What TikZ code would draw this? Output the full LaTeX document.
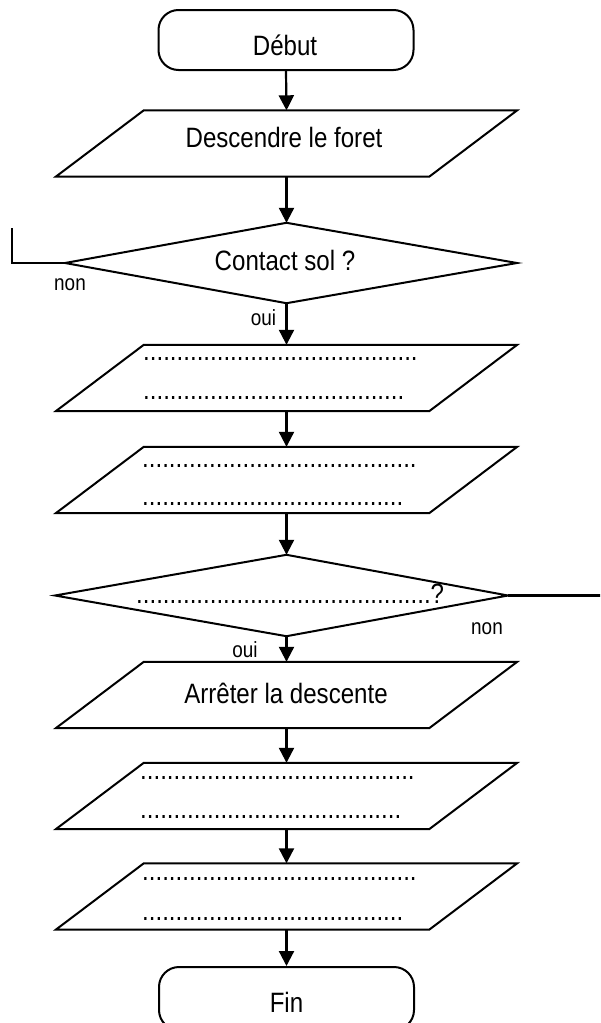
\documentclass[tikz,border=0pt]{standalone}
\usepackage{fontspec}
\setmainfont{Liberation Sans}[FakeStretch=0.86]
\usetikzlibrary{arrows.meta,calc}
\newcommand\parashape[1]{\draw[shp] ($(#1.north west)+(88,0)$) -- (#1.north east) -- ($(#1.south east)+(-88,0)$) -- (#1.south west) -- cycle;}
\begin{document}
\begin{tikzpicture}[x=1pt,y=-1pt,
  shp/.style={line width=2pt},
  flow/.style={line width=2.2pt,-{Triangle[width=15pt,length=15pt]}},
  plainline/.style={line width=2.2pt},
  txt/.style={font=\fontsize{28}{34}\selectfont, inner sep=0pt, anchor=base},
  lbl/.style={font=\fontsize{22}{26}\selectfont, inner sep=0pt, anchor=base},
  dotline/.style={font=\fontsize{28}{34}\selectfont, inner sep=0pt, anchor=base west},
  term/.style={draw, line width=2pt, rounded corners=20pt, minimum width=255pt, minimum height=60pt, inner sep=0pt},
  para/.style={minimum width=461pt, minimum height=66pt, inner sep=0pt},
  dia/.style={minimum width=1pt, inner sep=0pt},
]
\useasboundingbox (0,0) rectangle (600,1023);
\clip (0,0) rectangle (600,1023);

% terminals
\node[term] (debut) at (286,40) {};
\node[txt] (debutt) at (285,55) {Début};
\node[term, minimum height=63pt] (fin) at (286.5,998.5) {};
\node[txt] (fint) at (286.5,1012) {Fin};

% parallelograms
\node[para] (p1) at (286.5,143.5) {};
\node[para] (p2) at (286.5,378) {};
\node[para] (p3) at (286.5,480) {};
\node[para] (p4) at (286.5,695) {};
\node[para] (p5) at (286.5,796) {};
\node[para] (p6) at (286.5,896.5) {};
\parashape{p1}
\parashape{p2}
\parashape{p3}
\parashape{p4}
\parashape{p5}
\parashape{p6}

\node[txt] (p1t) at (284,147) {Descendre le foret};
\node[txt] (p4t) at (286,703) {Arrêter la descente};

\node[dotline] (p2a) at (143,360) {.........................................};
\node[dotline] (p2b) at (143,399) {.......................................};
\node[dotline] (p3a) at (142,467) {.........................................};
\node[dotline] (p3b) at (142,505) {.......................................};
\node[dotline] (p5a) at (140,779) {.........................................};
\node[dotline] (p5b) at (140,818) {.......................................};
\node[dotline] (p6a) at (142,880) {.........................................};
\node[dotline] (p6b) at (142,920) {.......................................};

% decisions
\node[dia, minimum height=80pt] (d1) at (286.5,263) {};
\coordinate (d1w) at ($(d1)+(-221.5,0)$);
\coordinate (d1e) at ($(d1)+(230.5,0)$);
\draw[shp] (d1w) -- (d1.north) -- (d1e) -- (d1.south) -- cycle;
\node[txt] (d1t) at (285,270) {Contact sol ?};

\node[dia, minimum height=81pt] (d2) at (286.5,595.5) {};
\coordinate (d2w) at ($(d2)+(-231.5,0)$);
\coordinate (d2e) at ($(d2)+(221.5,0)$);
\draw[shp] (d2w) -- (d2.north) -- (d2e) -- (d2.south) -- cycle;
\node[dotline] (d2t) at (136,603) {............................................?};

% connectors
\draw[flow] (debut.south) -- (p1.north);
\draw[flow] (p1.south) -- (d1.north);
\draw[flow] (d1.south) -- (p2.north);
\draw[flow] (p2.south) -- (p3.north);
\draw[flow] (p3.south) -- (d2.north);
\draw[flow] (d2.south) -- (p4.north);
\draw[flow] (p4.south) -- (p5.north);
\draw[flow] (p5.south) -- (p6.north);
\draw[flow] (p6.south) -- (fin.north);

\coordinate (nonA) at (12,263);
\coordinate (nonB) at (12,228);
\draw[plainline] (d1w) -- (nonA) -- (nonB);
\coordinate (nonC) at (601,595.5);
\draw[plainline] (d2e) -- (nonC);

% labels
\node[lbl] (non1) at (70,290) {non};
\node[lbl] (oui1) at (263.5,325) {oui};
\node[lbl] (oui2) at (245,657) {oui};
\node[lbl] (non2) at (487,634) {non};
\end{tikzpicture}
\end{document}
